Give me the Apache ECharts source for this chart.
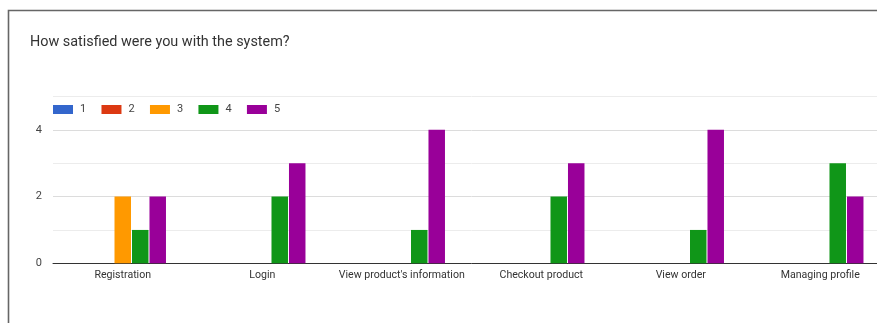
<!DOCTYPE html>
<html>
<head>
<meta charset="utf-8">
<script src="https://cdn.jsdelivr.net/npm/echarts@6/dist/echarts.min.js"></script>
<style>
  html, body { margin: 0; padding: 0; background: #fff; overflow: hidden; }
  /* the chart runs a little past the right edge of the window */
  #chart { width: 890px; height: 323px; }
</style>
</head>
<body>
<div id="chart"></div>
<script>
// Survey responses per feature, counted by rating 1..5
const categories = ['Registration', 'Login', "View product's information", 'Checkout product', 'View order', 'Managing profile'];
const ratingNames = ['1', '2', '3', '4', '5'];
const rating1 = [0, 0, 0, 0, 0, 0];
const rating2 = [0, 0, 0, 0, 0, 0];
const rating3 = [2, 0, 0, 0, 0, 0];
const rating4 = [1, 2, 1, 2, 1, 3];
const rating5 = [2, 3, 4, 3, 4, 2];
const yTicks = [0, 2, 4];

const seriesData = [rating1, rating2, rating3, rating4, rating5];
const colors = ['#3366cc', '#dc3912', '#ff9900', '#109618', '#990099'];

const chart = echarts.init(document.getElementById('chart'));
chart.setOption({
  animation: false,
  textStyle: { fontFamily: 'Roboto, Arial, sans-serif' },
  color: colors,
  title: {
    text: 'How satisfied were you with the system?',
    left: 30, top: 35.5, padding: 0,
    textStyle: { fontSize: 14.4, fontWeight: 'normal', color: '#333', fontFamily: 'Roboto, Arial, sans-serif' }
  },
  legend: {
    left: 53, top: 104, padding: 0,
    itemWidth: 20, itemHeight: 9,
    itemGap: 15.3,
    icon: 'rect',
    textStyle: { fontSize: 11, color: '#444', padding: [0, 0, 0, 2] },
    data: ratingNames
  },
  graphic: [{
    type: 'polyline',
    shape: { points: [[8.5, 323], [8.5, 10.5], [890, 10.5]] },
    style: { stroke: '#666', lineWidth: 1.6, fill: null },
    z: 10
  }],
  grid: { left: 53, right: 0, top: 96.5, bottom: 59.7, containLabel: false },
  xAxis: {
    type: 'category',
    data: categories,
    axisLine: { lineStyle: { color: '#333', width: 1 } },
    axisTick: { show: false },
    axisLabel: { color: '#333', fontSize: 10.6, margin: 7, interval: 0 }
  },
  yAxis: {
    type: 'value',
    min: 0, max: 5, interval: 1,
    axisLine: { show: false },
    axisTick: { show: false },
    axisLabel: {
      color: '#444', fontSize: 11, margin: 11,
      formatter: v => (yTicks.indexOf(v) >= 0 ? String(v) : '')
    },
    splitLine: { lineStyle: { color: ['#dcdcdc', '#ececec'], width: 1 } }
  },
  series: seriesData.map((d, i) => ({
    name: ratingNames[i],
    type: 'bar',
    data: d,
    barWidth: 16.5,
    barGap: '6%',
    itemStyle: { color: colors[i] }
  }))
});
</script>
</body>
</html>
